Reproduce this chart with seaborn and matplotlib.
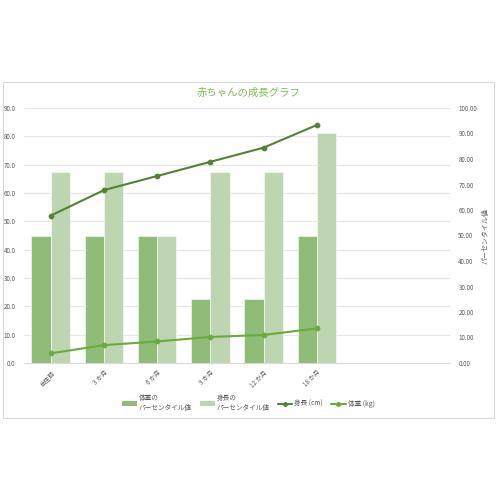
import matplotlib
matplotlib.use("Agg")
import matplotlib.pyplot as plt
from matplotlib.patches import Rectangle
from matplotlib.lines import Line2D
from matplotlib.patches import Patch
import numpy as np
import pandas as pd
import seaborn as sns

# ---- data ----
ages = ["出生時", "3 か月", "6 か月", "9 か月", "12 か月", "18 か月"]
weight_pct = [50, 50, 50, 25, 25, 50]      # 体重のパーセンタイル値
height_pct = [75, 75, 50, 75, 75, 90]      # 身長のパーセンタイル値
height_cm = [52, 61, 66, 71, 76, 84]       # 身長 (cm)
weight_kg = [3.4, 6.3, 7.6, 9.2, 9.9, 12.2]  # 体重 (kg)

bar_names = ["体重の\nパーセンタイル値", "身長の\nパーセンタイル値"]
line_names = ["身長 (cm)", "体重 (kg)"]
n_slots = 8  # table rows reserved on the category axis

sns.set_theme(style="white")
plt.rcParams["font.family"] = ["Noto Sans CJK JP", "DejaVu Sans"]

c_bar_dark = "#8FBC77"
c_bar_light = "#BDD6B1"
c_line_height = "#548235"
c_line_weight = "#6AAB3E"
c_text = "#595959"
c_grid = "#E6E6E6"

bars = pd.DataFrame({
    "月齢": ages * 2,
    "値": weight_pct + height_pct,
    "系列": [bar_names[0]] * len(ages) + [bar_names[1]] * len(ages),
})
lines = pd.DataFrame({
    "月齢": ages * 2,
    "値": height_cm + weight_kg,
    "系列": [line_names[0]] * len(ages) + [line_names[1]] * len(ages),
})

fig = plt.figure(figsize=(5, 5), dpi=100)
fig.patch.set_facecolor("white")
fig.add_artist(Rectangle((0.006, 0.164), 0.982, 0.672, transform=fig.transFigure,
                         fill=False, edgecolor="#D9D9D9", linewidth=0.8))

ax = fig.add_axes([0.048, 0.274, 0.852, 0.510])   # percentile bars (right scale)
ax2 = ax.twinx()                                    # cm / kg lines (left scale)

left_max, right_max = 90, 100

# gridlines follow the left scale, drawn behind the bars
for v in np.arange(10, left_max + 1, 10):
    ax.axhline(v * right_max / left_max, color=c_grid, linewidth=0.8, zorder=0)

sns.barplot(data=bars, x="月齢", y="値", hue="系列", order=ages,
            palette=[c_bar_dark, c_bar_light], saturation=1, width=0.72, gap=0,
            edgecolor="#FFFFFF", linewidth=0.4, legend=False, ax=ax, zorder=2)

sns.pointplot(data=lines, x="月齢", y="値", hue="系列", order=ages,
              palette=[c_line_height, c_line_weight], errorbar=None,
              markers="o", markersize=3, linewidth=1.5, dodge=False,
              legend=False, ax=ax2)

for a in (ax, ax2):
    a.set_xlim(-0.5, n_slots - 0.5)
    a.set_xlabel("")
    a.set_ylabel("")
    for s in a.spines.values():
        s.set_visible(False)
    a.grid(False)

ax.set_ylim(0, right_max)
ax2.set_ylim(0, left_max)

# right axis: percentile
ax.yaxis.tick_right()
ax.yaxis.set_label_position("right")
ax.set_yticks(np.arange(0, right_max + 1, 10))
ax.set_yticklabels([f"{v:.2f}" for v in np.arange(0, right_max + 1, 10)])
ax.tick_params(axis="y", length=0, pad=6, labelsize=4.5, labelcolor=c_text)
ax.set_ylabel("パーセンタイル値", fontsize=5, color=c_text, rotation=90, labelpad=3)

# left axis: cm / kg
ax2.yaxis.tick_left()
ax2.set_yticks(np.arange(0, left_max + 1, 10))
ax2.set_yticklabels([f"{v:.1f}" for v in np.arange(0, left_max + 1, 10)])
ax2.tick_params(axis="y", length=0, pad=6, labelsize=4.5, labelcolor=c_text)

ax.set_xticks(range(len(ages)))
ax.set_xticklabels(ages, rotation=45, ha="right", rotation_mode="anchor")
ax.tick_params(axis="x", length=0, pad=4, labelsize=4.5, labelcolor=c_text)
ax2.tick_params(axis="x", bottom=False, labelbottom=False)
ax.spines["bottom"].set_visible(True)
ax.spines["bottom"].set_color("#D9D9D9")
ax.spines["bottom"].set_linewidth(0.8)

fig.text(0.497, 0.814, "赤ちゃんの成長グラフ", ha="center", va="center",
         fontsize=7.5, color="#78BE55")

handles = [
    Patch(facecolor=c_bar_dark, edgecolor="none"),
    Patch(facecolor=c_bar_light, edgecolor="none"),
    Line2D([], [], color=c_line_height, linewidth=1.5, marker="o", markersize=2.5),
    Line2D([], [], color=c_line_weight, linewidth=1.5, marker="o", markersize=2.5),
]
leg = fig.legend(handles, bar_names + line_names, loc="center", ncol=4,
                 bbox_to_anchor=(0.497, 0.194), frameon=False, fontsize=4.8,
                 handlelength=2.2, handleheight=0.7, handletextpad=0.3,
                 columnspacing=1.2)
for t in leg.get_texts():
    t.set_color(c_text)

fig.savefig("out.png", dpi=100, facecolor="white")
